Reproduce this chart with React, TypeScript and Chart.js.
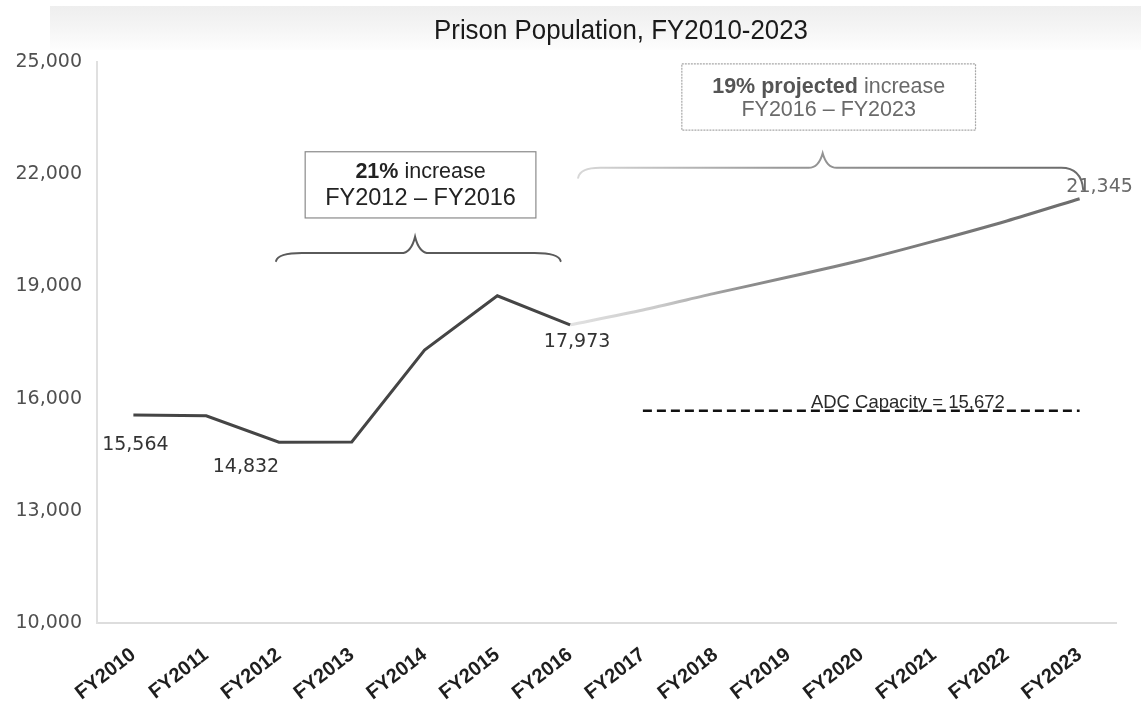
import React, { useEffect, useRef } from 'react';
import { Chart, registerables } from 'chart.js';

Chart.register(...registerables);

// ---------------- data ----------------
const categories = [
  'FY2010', 'FY2011', 'FY2012', 'FY2013', 'FY2014', 'FY2015', 'FY2016',
  'FY2017', 'FY2018', 'FY2019', 'FY2020', 'FY2021', 'FY2022', 'FY2023',
];
const actualPopulation = [15564, 15540, 14832, 14840, 17300, 18750, 17973, null, null, null, null, null, null, null];
const projectedPopulation = [null, null, null, null, null, null, 17973, 18370, 18820, 19250, 19700, 20210, 20750, 21345];
const adcCapacity = [null, null, null, null, null, null, null, 15672, 15672, 15672, 15672, 15672, 15672, 15672];
const yTickValues = [10000, 13000, 16000, 19000, 22000, 25000];
const yMin = 10000;
const yMax = 25000;
const yStep = 3000;

const chartTitle = 'Prison Population, FY2010-2023';
const capacityLabel = 'ADC Capacity = 15,672';
const box1Bold = '21%';
const box1Rest = ' increase';
const box1Line2 = 'FY2012 \u2013 FY2016';
const box2Bold = '19% projected';
const box2Rest = ' increase';
const box2Line2 = 'FY2016 \u2013 FY2023';

// which points carry a value label
const labelledActual = [0, 2, 6];
const labelledProjected = [13];

const fmt = (v: number) => v.toLocaleString('en-US');

function drawBrace(
  ctx: CanvasRenderingContext2D,
  x1: number, x2: number, xm: number, yB: number, yTip: number,
  dropL: number, dropR: number, r: number, color: string | CanvasGradient, width: number,
) {
  ctx.save();
  ctx.strokeStyle = color;
  ctx.lineWidth = width;
  ctx.lineCap = 'round';
  ctx.beginPath();
  ctx.moveTo(x1, yB + dropL);
  ctx.quadraticCurveTo(x1 + 2, yB, x1 + r, yB);
  ctx.lineTo(xm - 14, yB);
  ctx.quadraticCurveTo(xm - 4, yB, xm, yTip);
  ctx.quadraticCurveTo(xm + 4, yB, xm + 14, yB);
  ctx.lineTo(x2 - r, yB);
  ctx.quadraticCurveTo(x2 - 2, yB, x2, yB + dropR);
  ctx.stroke();
  ctx.restore();
}

const annotationPlugin = {
  id: 'annotations',
  beforeDraw(chart: any) {
    const { ctx, width } = chart;
    ctx.save();
    ctx.fillStyle = '#ffffff';
    ctx.fillRect(0, 0, chart.width, chart.height);
    const g = ctx.createLinearGradient(0, 6, 0, 50);
    g.addColorStop(0, '#eeeeee');
    g.addColorStop(0.5, '#f5f5f5');
    g.addColorStop(1, '#fdfdfd');
    ctx.fillStyle = g;
    ctx.fillRect(50, 6, width - 50, 44);
    // title
    ctx.font = '26px "Liberation Sans", Arial, sans-serif';
    const w = ctx.measureText(chartTitle).width;
    const target = 374;
    const sx = target / w;
    ctx.translate(621, 31);
    ctx.scale(sx, 1.05);
    ctx.fillStyle = '#1a1a1a';
    ctx.textAlign = 'center';
    ctx.textBaseline = 'middle';
    ctx.fillText(chartTitle, 0, 0);
    ctx.restore();
  },
  afterDatasetsDraw(chart: any) {
    const { ctx } = chart;
    const xs = chart.scales.x;
    const ys = chart.scales.y;
    const x0 = xs.getPixelForValue(0);
    const dx = xs.getPixelForValue(1) - x0;
    const px = (i: number) => x0 + i * dx;
    const py = (v: number) => ys.getPixelForValue(v);

    // brace 1 (FY2012 - FY2016)
    drawBrace(ctx, px(1.96), px(5.87), px(3.87), py(19890), py(20330), 8, 8, 26, '#5a5a5a', 2);
    // brace 2 (FY2016 - FY2023)
    const g2 = ctx.createLinearGradient(px(6.1), 0, px(13), 0);
    g2.addColorStop(0, '#d8d8d8');
    g2.addColorStop(0.4, '#9a9a9a');
    g2.addColorStop(1, '#6a6a6a');
    drawBrace(ctx, px(6.11), px(13.05), px(9.47), py(22170), py(22560), 10, 22, 22, g2, 2);

    // box 1
    ctx.save();
    const b1l = px(2.36), b1r = px(5.53), b1t = py(22600), b1b = py(20830);
    ctx.fillStyle = '#ffffff';
    ctx.fillRect(b1l, b1t, b1r - b1l, b1b - b1t);
    ctx.strokeStyle = '#8a8a8a';
    ctx.lineWidth = 1.2;
    ctx.strokeRect(b1l, b1t, b1r - b1l, b1b - b1t);
    const c1 = (b1l + b1r) / 2;
    ctx.textBaseline = 'middle';
    ctx.fillStyle = '#222222';
    ctx.font = 'bold 21.5px "Liberation Sans", Arial, sans-serif';
    const wb1 = ctx.measureText(box1Bold).width;
    ctx.font = '21.5px "Liberation Sans", Arial, sans-serif';
    const wr1 = ctx.measureText(box1Rest).width;
    const sx1 = c1 - (wb1 + wr1) / 2;
    ctx.textAlign = 'left';
    ctx.font = 'bold 21.5px "Liberation Sans", Arial, sans-serif';
    ctx.fillText(box1Bold, sx1, b1t + 20);
    ctx.font = '21.5px "Liberation Sans", Arial, sans-serif';
    ctx.fillText(box1Rest, sx1 + wb1, b1t + 20);
    ctx.font = '23.5px "Liberation Sans", Arial, sans-serif';
    ctx.textAlign = 'center';
    ctx.fillText(box1Line2, c1, b1t + 47);
    ctx.restore();

    // box 2
    ctx.save();
    const b2l = px(7.535), b2r = px(11.57), b2t = py(24950), b2b = py(23180);
    ctx.fillStyle = '#ffffff';
    ctx.fillRect(b2l, b2t, b2r - b2l, b2b - b2t);
    ctx.strokeStyle = '#a8a8a8';
    ctx.lineWidth = 1.2;
    ctx.setLineDash([2, 1]);
    ctx.strokeRect(b2l, b2t, b2r - b2l, b2b - b2t);
    ctx.setLineDash([]);
    const c2 = (b2l + b2r) / 2;
    ctx.textBaseline = 'middle';
    ctx.font = 'bold 21.5px "Liberation Sans", Arial, sans-serif';
    const wb2 = ctx.measureText(box2Bold).width;
    ctx.font = '21.5px "Liberation Sans", Arial, sans-serif';
    const wr2 = ctx.measureText(box2Rest).width;
    const sx2 = c2 - (wb2 + wr2) / 2;
    ctx.textAlign = 'left';
    ctx.fillStyle = '#555555';
    ctx.font = 'bold 21.5px "Liberation Sans", Arial, sans-serif';
    ctx.fillText(box2Bold, sx2, b2t + 23);
    ctx.fillStyle = '#6a6a6a';
    ctx.font = '21.5px "Liberation Sans", Arial, sans-serif';
    ctx.fillText(box2Rest, sx2 + wb2, b2t + 23);
    ctx.textAlign = 'center';
    ctx.font = '21.5px "Liberation Sans", Arial, sans-serif';
    ctx.fillText(box2Line2, c2, b2t + 46);
    ctx.restore();

    // capacity label
    ctx.save();
    ctx.font = '18.5px "Liberation Sans", Arial, sans-serif';
    ctx.fillStyle = '#2a2a2a';
    ctx.textAlign = 'center';
    ctx.textBaseline = 'alphabetic';
    ctx.fillText(capacityLabel, px(10.64), py(15672) - 3);
    ctx.restore();

    // value labels
    ctx.save();
    ctx.font = '19px "DejaVu Sans", Verdana, sans-serif';
    ctx.textAlign = 'center';
    ctx.textBaseline = 'middle';
    const offsA: Record<number, [number, number]> = { 0: [2, 30], 2: [-33, 25], 6: [7, 17] };
    labelledActual.forEach((i) => {
      const v = actualPopulation[i] as number;
      const o = offsA[i] || [0, 20];
      ctx.fillStyle = '#333333';
      ctx.fillText(fmt(v), px(i) + o[0], py(v) + o[1]);
    });
    labelledProjected.forEach((i) => {
      const v = projectedPopulation[i] as number;
      ctx.fillStyle = '#6a6a6a';
      ctx.fillText(fmt(v), px(i) + 20, py(v) - 12);
    });
    ctx.restore();
  },
};

export default function App() {
  const ref = useRef<HTMLCanvasElement | null>(null);
  useEffect(() => {
    document.body.style.margin = '0';
    const canvas = ref.current;
    if (!canvas) return;
    const chart = new Chart(canvas, {
      type: 'line',
      data: {
        labels: categories,
        datasets: [
          {
            label: 'Actual',
            data: actualPopulation,
            borderColor: '#454545',
            borderWidth: 3,
            pointRadius: 0,
            tension: 0,
            spanGaps: false,
          },
          {
            label: 'Projected',
            data: projectedPopulation,
            borderColor: (c: any) => {
              const ch = c.chart;
              const xs = ch.scales && ch.scales.x;
              if (!xs || !ch.chartArea) return '#888888';
              const g = ch.ctx.createLinearGradient(xs.getPixelForValue(6), 0, xs.getPixelForValue(13), 0);
              g.addColorStop(0, '#e2e2e2');
              g.addColorStop(0.18, '#c9c9c9');
              g.addColorStop(0.35, '#8c8c8c');
              g.addColorStop(1, '#6c6c6c');
              return g;
            },
            borderWidth: 3,
            pointRadius: 0,
            tension: 0.25,
          },
          {
            label: 'ADC Capacity',
            data: adcCapacity,
            borderColor: '#111111',
            borderWidth: 2.5,
            borderDash: [9, 5],
            pointRadius: 0,
            tension: 0,
          },
        ],
      },
      options: {
        animation: false,
        responsive: false,
        devicePixelRatio: 1,
        layout: { padding: { top: 62, right: 25, left: 0, bottom: 0 } },
        plugins: {
          legend: { display: false },
          title: { display: false },
          tooltip: { enabled: false },
        },
        scales: {
          x: {
            offset: true,
            grid: { display: false, drawTicks: false },
            border: { display: true, color: '#dddddd', width: 2 },
            ticks: {
              minRotation: 38,
              maxRotation: 38,
              padding: 20,
              color: '#1e1e1e',
              font: { family: '"Liberation Sans", Arial, sans-serif', size: 20, weight: 'bold' },
            },
            afterFit: (s: any) => { s.height = 89; },
          },
          y: {
            min: yMin,
            max: yMax,
            grid: { display: false, drawTicks: false },
            border: { display: true, color: '#e0e0e0', width: 2 },
            afterBuildTicks: (s: any) => { s.ticks = yTickValues.map((v) => ({ value: v })); },
            ticks: {
              stepSize: yStep,
              padding: 15,
              color: '#505050',
              font: { family: '"DejaVu Sans", Verdana, sans-serif', size: 19 },
              callback: (v: any) => fmt(Number(v)),
            },
            afterFit: (s: any) => { s.width = 97; },
          },
        },
      },
      plugins: [annotationPlugin],
    });
    return () => chart.destroy();
  }, []);
  return (
    <div style={{ width: 1141, height: 712 }}>
      <canvas ref={ref} width={1141} height={712} style={{ display: 'block' }} />
    </div>
  );
}
